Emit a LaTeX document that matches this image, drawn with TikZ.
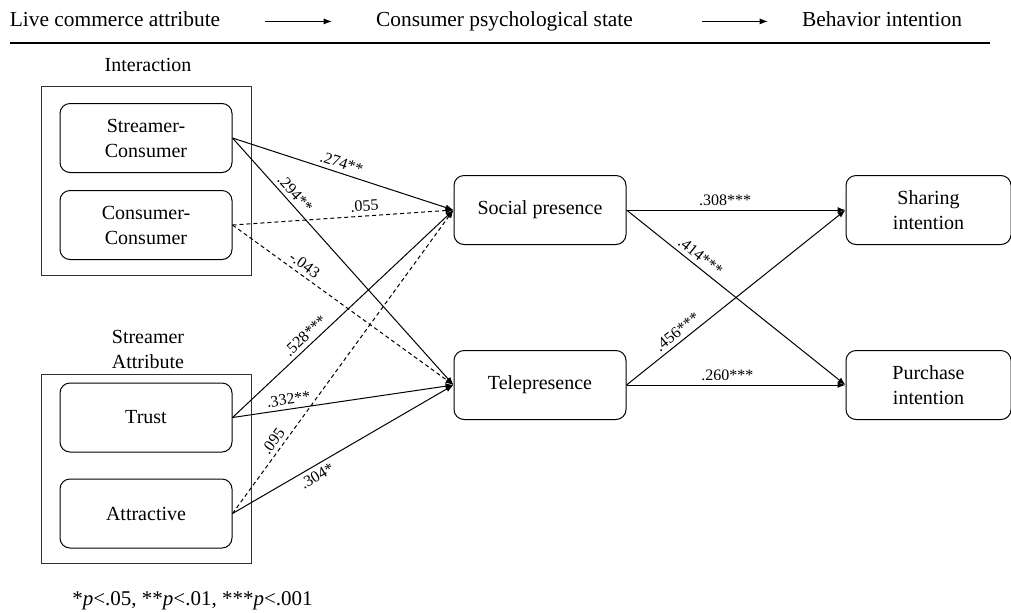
\documentclass[tikz,border=0pt]{standalone}
\usepackage{fontspec}
\setmainfont{Liberation Serif}
\usetikzlibrary{positioning, arrows.meta}
\tikzset{
	construct/.style={
		draw,
		rounded corners=5pt,
		line width=0.5pt,
		align=center,
		minimum width=86pt,
		minimum height=34.5pt,
		inner sep=1pt,
		font=\fontsize{10}{12.5}\selectfont
	},
	frame/.style={
		draw=black!80,
		line width=0.5pt
	},
	grouplab/.style={
		align=center,
		inner sep=0pt,
		font=\fontsize{10}{12.5}\selectfont
	},
	hdr/.style={
		inner sep=0pt,
		anchor=base,
		font=\fontsize{10.7}{12}\selectfont
	},
	coef/.style={
		inner sep=2pt,
		font=\fontsize{8}{9}\selectfont
	},
	effect/.style={
		-{Latex[length=4pt,width=3pt]},
		line width=0.5pt
	},
	weak/.style={
		effect,
		dash pattern=on 2pt off 1.5pt
	}
}

\begin{document}
\begin{tikzpicture}[x=0.5pt, y=-0.5pt]
	\useasboundingbox (0,0) rectangle (1011,612);
	% header row
	\node[hdr] (h1) at (115,26) {Live commerce attribute};
	\node[hdr] (h2) at (504.5,26) {Consumer psychological state};
	\node[hdr] (h3) at (882,26) {Behavior intention};
	\draw[effect, line width=0.4pt, shorten <=22.4pt, shorten >=22pt] (h1.mid east) -- (h2.mid west);
	\draw[effect, line width=0.4pt, shorten <=34.5pt, shorten >=17pt] (h2.mid east) -- (h3.mid west);
	\draw[line width=0.8pt] (10,43) -- (990,43);
	
	% groups
	\node[grouplab, anchor=base] (ilab) at (148,71) {Interaction};
	\node[grouplab] (slab) at (148,349) {Streamer\\Attribute};
	\draw[frame] (41,86) rectangle (251,275);
	\draw[frame] (41,374) rectangle (251,563);
	
	\node[construct] (sc) at (146,138) {Streamer-\\Consumer};
	\node[construct, below=8.5pt of sc] (cc) {Consumer-\\Consumer};
	\node[construct] (trust) at (146,417.5) {Trust};
	\node[construct, below=13pt of trust] (attr) {Attractive};
	\node[construct] (sp) at (540,210) {Social presence};
	\node[construct, below=52.5pt of sp] (tp) {Telepresence};
	\node[construct, minimum width=82.5pt, right=109.5pt of sp] (si) {Sharing\\intention};
	\node[construct, minimum width=82.5pt, right=109.5pt of tp] (pi) {Purchase\\intention};
	
	% paths
	\draw[effect] (sc.east) -- (sp.west) node[coef, pos=.48, above, sloped] {.274**};
	\draw[effect] (sc.east) -- (tp.west) node[coef, pos=.25, above, sloped] {.294**};
	\draw[weak] (cc.east) -- (sp.west) node[coef, pos=.6, above, sloped] {.055};
	\draw[weak] (cc.east) -- (tp.west) node[coef, pos=.3, above, sloped] {-.043};
	\draw[effect] (trust.east) -- (sp.west) node[coef, pos=.36, above, sloped] {.528***};
	\draw[effect] (trust.east) -- (tp.west) node[coef, pos=.26, above, sloped] {.332**};
	\draw[weak] (attr.east) -- (sp.west) node[coef, pos=.22, above, sloped] {.095};
	\draw[effect] (attr.east) -- (tp.west) node[coef, pos=.36, below, sloped] {.304*};
	\draw[effect] (sp.east) -- (si.west) node[coef, pos=.45, above] {.308***};
	\draw[effect] (sp.east) -- (pi.west) node[coef, pos=.31, above, sloped] {.414***};
	\draw[effect] (tp.east) -- (si.west) node[coef, pos=.26, above, sloped] {.456***};
	\draw[effect] (tp.east) -- (pi.west) node[coef, pos=.46, above] {.260***};
	
	\node[anchor=base, font=\fontsize{10.5}{12}\selectfont] (note) at (192.5,605) {*\textit{p}<.05, **\textit{p}<.01, ***\textit{p}<.001};
\end{tikzpicture}
\end{document}
